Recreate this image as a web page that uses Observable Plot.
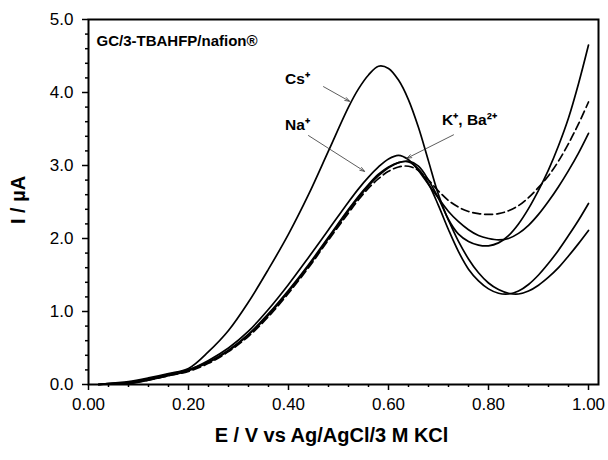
<!DOCTYPE html>
<html>
<head>
<meta charset="utf-8">
<script src="https://cdn.jsdelivr.net/npm/d3@7"></script>
<script src="https://cdn.jsdelivr.net/npm/@observablehq/plot@0.6"></script>
<style>
  html, body { margin: 0; padding: 0; background: #fff; }
</style>
</head>
<body>
<div id="chart"></div>
<script>
const E = [0.02,0.05,0.08,0.12,0.16,0.20,0.24,0.28,0.32,0.36,0.40,0.44,0.48,0.52,0.54,0.56,0.58,0.60,0.62,0.64,0.66,0.68,0.70,0.72,0.74,0.76,0.78,0.80,0.82,0.84,0.86,0.88,0.90,0.92,0.94,0.96,0.98,1.00];

const Cs = [0.00,0.02,0.04,0.09,0.15,0.22,0.45,0.74,1.13,1.58,2.06,2.60,3.20,3.80,4.05,4.24,4.36,4.33,4.17,3.90,3.52,3.06,2.60,2.26,2.06,1.96,1.91,1.90,1.94,2.04,2.20,2.41,2.66,2.94,3.27,3.65,4.12,4.65];
const Na = [0.00,0.01,0.03,0.08,0.14,0.20,0.33,0.50,0.73,1.03,1.37,1.74,2.12,2.50,2.68,2.84,2.98,3.09,3.14,3.08,2.93,2.74,2.55,2.37,2.23,2.12,2.04,2.00,1.98,2.00,2.07,2.18,2.33,2.51,2.71,2.93,3.17,3.44];
const K  = [0.00,0.02,0.02,0.07,0.13,0.20,0.31,0.47,0.69,0.97,1.29,1.64,2.02,2.40,2.58,2.74,2.88,2.98,3.04,3.05,2.95,2.75,2.45,2.12,1.82,1.58,1.42,1.31,1.25,1.24,1.28,1.37,1.50,1.66,1.84,2.04,2.25,2.48];
const Ba = [0.00,0.01,0.01,0.06,0.12,0.19,0.30,0.46,0.68,0.95,1.27,1.62,2.00,2.38,2.56,2.72,2.86,2.97,3.04,3.06,2.99,2.80,2.55,2.25,1.96,1.72,1.53,1.39,1.30,1.25,1.24,1.28,1.36,1.47,1.60,1.76,1.93,2.11];
const Blank = [0.00,0.01,0.02,0.06,0.12,0.18,0.29,0.45,0.66,0.93,1.25,1.60,1.98,2.35,2.53,2.69,2.82,2.92,2.98,2.99,2.93,2.80,2.65,2.52,2.43,2.37,2.34,2.33,2.34,2.38,2.45,2.56,2.70,2.86,3.06,3.30,3.57,3.87];

const xTicks = [0.00,0.20,0.40,0.60,0.80,1.00];
const xMinor = [0.04,0.08,0.12,0.16,0.24,0.28,0.32,0.36,0.44,0.48,0.52,0.56,0.64,0.68,0.72,0.76,0.84,0.88,0.92,0.96];
const yTicks = [0.0,1.0,2.0,3.0,4.0,5.0];
const yMinor = [0.2,0.4,0.6,0.8,1.2,1.4,1.6,1.8,2.2,2.4,2.6,2.8,3.2,3.4,3.6,3.8,4.2,4.4,4.6,4.8];

const seriesNames = ["Cs", "Na", "K", "Ba", "Blank"];
const seriesValues = [Cs, Na, K, Ba, Blank];
const solid = [];
const dashed = [];
seriesNames.forEach((name, i) => {
  const target = name === "Blank" ? dashed : solid;
  E.forEach((e, j) => target.push({series: name, E: e, I: seriesValues[i][j]}));
});

const labels = [
  {text: "Cs\u207A", E: 0.418, I: 4.19},
  {text: "Na\u207A", E: 0.418, I: 3.55},
  {text: "K\u207A, Ba\u00B2\u207A", E: 0.762, I: 3.62}
];
const arrows = [
  {E1: 0.47, I1: 4.08, E2: 0.522, I2: 3.88},
  {E1: 0.44, I1: 3.41, E2: 0.552, I2: 2.92},
  {E1: 0.73, I1: 3.42, E2: 0.637, I2: 3.10}
];

const font = "'Liberation Sans', Arial, sans-serif";

const chart = Plot.plot({
  width: 608,
  height: 460,
  marginLeft: 88,
  marginRight: 10,
  marginTop: 19,
  marginBottom: 76,
  style: {fontFamily: font, fontSize: "17px", color: "#000", background: "#fff"},
  x: {domain: [0, 1.02]},
  y: {domain: [0, 5]},
  marks: [
    Plot.axisX({ticks: xTicks, tickFormat: d => d.toFixed(2), tickSize: 6, tickPadding: 7, strokeWidth: 1.5, fontSize: 17, label: null}),
    Plot.axisX({ticks: xMinor, tickSize: 3, strokeWidth: 1.5, fill: "none", label: null}),
    Plot.axisY({ticks: yTicks, tickFormat: d => d.toFixed(1), tickSize: 6, tickPadding: 9, strokeWidth: 1.5, fontSize: 17, label: null}),
    Plot.axisY({ticks: yMinor, tickSize: 3, strokeWidth: 1.5, fill: "none", label: null}),
    Plot.line(solid, {x: "E", y: "I", z: "series", stroke: "#000", strokeWidth: 1.7, curve: "catmull-rom"}),
    Plot.line(dashed, {x: "E", y: "I", stroke: "#000", strokeWidth: 1.7, strokeDasharray: "8,4", curve: "catmull-rom"}),
    Plot.arrow(arrows, {x1: "E1", y1: "I1", x2: "E2", y2: "I2", stroke: "#333", strokeWidth: 0.8, headLength: 9, headAngle: 40}),
    Plot.text(labels, {x: "E", y: "I", text: "text", fontSize: 15.5, fontWeight: "bold", fill: "#000"}),
    Plot.text(["GC/3-TBAHFP/nafion\u00AE"], {frameAnchor: "top-left", dx: 8, dy: 16, textAnchor: "start", fontSize: 15, fontWeight: "bold", fill: "#000"}),
    Plot.text(["E / V vs Ag/AgCl/3 M KCl"], {frameAnchor: "bottom", dx: -12, dy: 57, fontSize: 20, fontWeight: "bold", fill: "#000"}),
    Plot.text(["I / \u00B5A"], {frameAnchor: "left", dx: -70, dy: 22, rotate: -90, fontSize: 20, fontWeight: "bold", fill: "#000"}),
    Plot.frame({stroke: "#000", strokeWidth: 2})
  ]
});
document.getElementById("chart").appendChild(chart);
</script>
</body>
</html>
